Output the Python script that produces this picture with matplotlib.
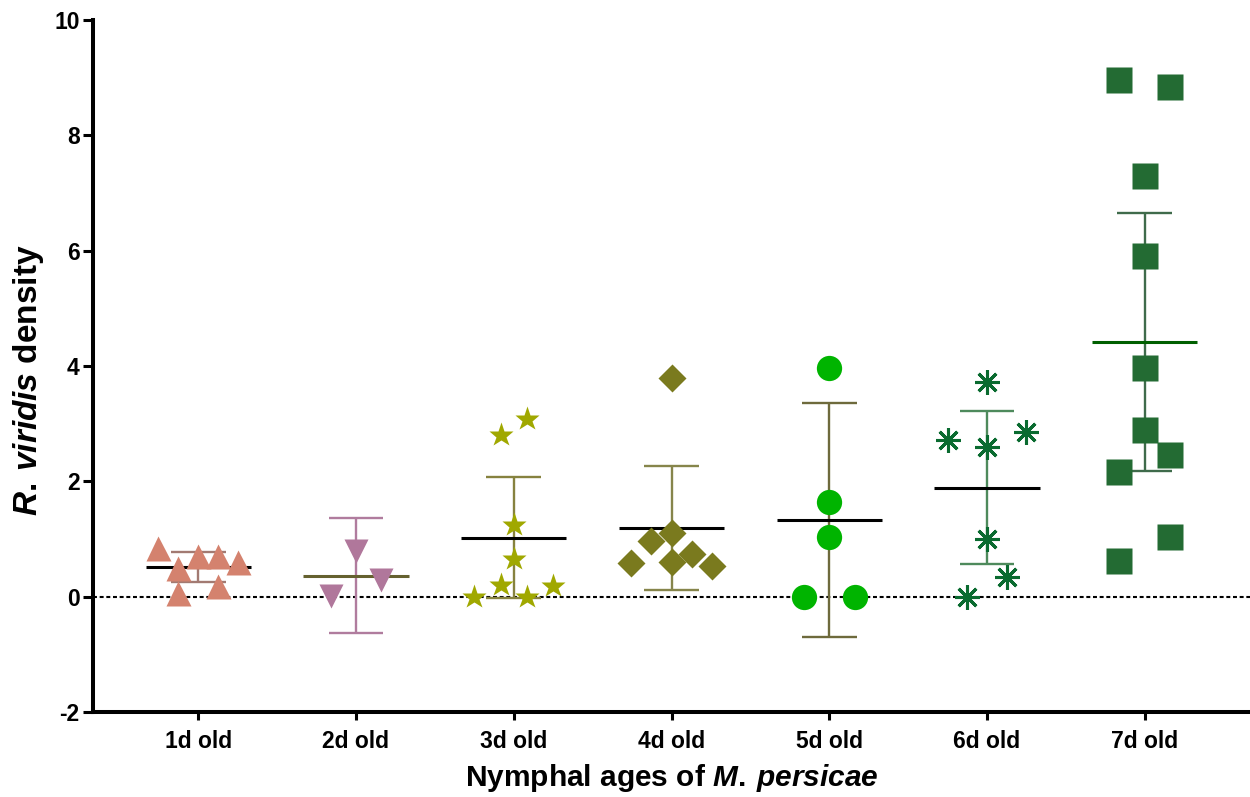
import numpy as np
import matplotlib
matplotlib.use("Agg")
import matplotlib.pyplot as plt

# ---- data -----------------------------------------------------------------
ages = ["1d old", "2d old", "3d old", "4d old", "5d old", "6d old", "7d old"]

d1 = [0.85, 0.50, 0.70, 0.70, 0.60, 0.07, 0.19]
d2 = [0.80, 0.01, 0.29]
d3 = [2.80, 3.08, 1.25, 0.66, 0.20, 0.18, 0.00, 0.00]
d4 = [3.79, 0.96, 1.10, 0.58, 0.60, 0.74, 0.54]
d5 = [3.97, 1.65, 1.03, 0.00, 0.00]
d6 = [3.73, 2.72, 2.60, 2.86, 1.00, 0.34, 0.00]
d7 = [8.96, 8.84, 7.29, 5.90, 3.96, 2.89, 2.45, 2.17, 1.04, 0.62]
groups = [d1, d2, d3, d4, d5, d6, d7]

# two-sided 95% t quantiles by degrees of freedom
t975 = {2: 4.303, 3: 3.182, 4: 2.776, 5: 2.571, 6: 2.447, 7: 2.365, 8: 2.306, 9: 2.262}

# ---- layout / style -------------------------------------------------------
# horizontal slots used to spread overlapping points (in marker widths)
slots = [
    [-2, -1, 0, 1, 2, -1, 1],
    [0, -1, 1],
    [-0.5, 0.5, 0, 0, -0.5, 1.5, -1.5, 0.5],
    [0, -1, 0, -2, 0, 1, 2],
    [0, 0, 0, -1, 1],
    [0, -2, 0, 2, 0, 1, -1],
    [-1, 1, 0, 0, 0, 0, 1, -1, 1, -1],
]
slot_step = [0.127, 0.161, 0.167, 0.127, 0.162, 0.125, 0.162]

markers = ["^", "v", "*", "D", "o", (8, 2, 0), "s"]
msizes = [18, 17.5, 18.5, 14.1, 18.2, 17.8, 18.7]
mcolors = ["#D4826E", "#B0779B", "#A0A800", "#7A7A1E", "#00B400", "#0A6B30", "#236B33"]
ecolors = ["#A27A72", "#B07C9E", "#86823F", "#86854B", "#6E6A3C", "#4E8A5C", "#3F6B4B"]
meancolors = ["black", "#65612F", "black", "black", "black", "black", "#005F00"]

plt.rcParams["font.family"] = ["Liberation Sans", "DejaVu Sans"]
plt.rcParams["font.weight"] = "bold"
plt.rcParams["axes.unicode_minus"] = False
plt.rcParams["mathtext.fontset"] = "custom"
plt.rcParams["mathtext.it"] = "Liberation Sans:italic:bold"
plt.rcParams["mathtext.rm"] = "Liberation Sans:bold"

W, H = 1250, 797
fig = plt.figure(figsize=(W / 100, H / 100), dpi=100)
ax = fig.add_axes([93 / W, 85 / H, 1 - 93 / W, 692 / H])

ax.set_xlim(-0.667, 6.667)
ax.set_ylim(-2, 10)

# zero reference line
ax.axhline(0, color="black", lw=1.5, ls=(0, (1.9, 1.3)), zorder=1)

for i, vals in enumerate(groups):
    v = np.asarray(vals, dtype=float)
    n = len(v)
    mean = v.mean()
    half = t975[n - 1] * v.std(ddof=1) / np.sqrt(n)
    lo, hi = mean - half, mean + half

    # 95% CI error bar
    ax.plot([i, i], [lo, hi], color=ecolors[i], lw=1.7, zorder=2, solid_capstyle="butt")
    for y in (lo, hi):
        ax.plot([i - 0.174, i + 0.174], [y, y], color=ecolors[i], lw=1.7, zorder=2,
                solid_capstyle="butt")
    # mean line
    ax.plot([i - 0.333, i + 0.333], [mean, mean], color=meancolors[i], lw=2.2, zorder=3,
            solid_capstyle="butt")

    xs = i + np.asarray(slots[i]) * slot_step[i]
    if markers[i] == (8, 2, 0):
        ax.plot(xs, v, ls="none", marker=markers[i], ms=msizes[i], mec=mcolors[i],
                mew=2.2, zorder=4)
    else:
        ax.plot(xs, v, ls="none", marker=markers[i], ms=msizes[i], mfc=mcolors[i],
                mec="none", zorder=4)

for side in ("top", "right"):
    ax.spines[side].set_visible(False)
for side in ("left", "bottom"):
    ax.spines[side].set_linewidth(2.9)

ax.set_xticks(range(len(ages)))
ax.set_xticklabels(ages)
ax.set_yticks(np.arange(-2, 11, 2))
ax.tick_params(axis="y", direction="out", length=7.2, width=2.2, pad=2.5, labelsize=16.5)
ax.tick_params(axis="x", direction="out", length=5.8, width=2.2, pad=7, labelsize=16.5)
for lab in ax.get_xticklabels() + ax.get_yticklabels():
    lab.set_fontweight("bold")

ax.set_xlabel(r"Nymphal ages of $\mathit{M.\hspace{0.2}persicae}$", fontsize=21.5,
              fontweight="bold", labelpad=7)
ax.set_ylabel(r"$\mathit{R.\hspace{0.2}viridis}$ density", fontsize=24, fontweight="bold")
ax.yaxis.set_label_coords(-0.041, 0.48)

fig.savefig("out.png", dpi=100)
